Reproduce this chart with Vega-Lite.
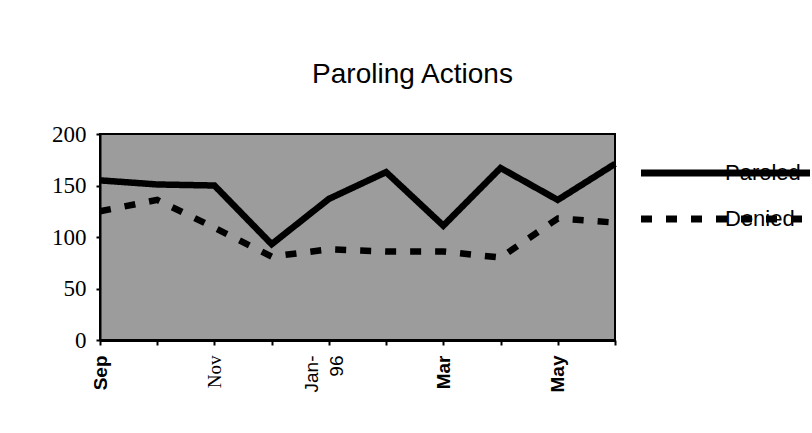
{
  "$schema": "https://vega.github.io/schema/vega-lite/v6.json",
  "width": 515,
  "height": 206,
  "autosize": {"type": "none"},
  "padding": {"left": 100, "top": 134, "right": 197, "bottom": 93},
  "background": "white",
  "title": {
    "text": "Paroling Actions",
    "font": "Liberation Sans",
    "fontSize": 28,
    "fontWeight": "normal",
    "color": "black",
    "anchor": "middle",
    "dx": 55,
    "offset": 34
  },
  "data": {
    "values": [
      {"month": "Sep", "series": "Paroled", "value": 155},
      {"month": "Oct", "series": "Paroled", "value": 151},
      {"month": "Nov", "series": "Paroled", "value": 150},
      {"month": "Dec", "series": "Paroled", "value": 93},
      {"month": "Jan-96", "series": "Paroled", "value": 137},
      {"month": "Feb", "series": "Paroled", "value": 163},
      {"month": "Mar", "series": "Paroled", "value": 111},
      {"month": "Apr", "series": "Paroled", "value": 167},
      {"month": "May", "series": "Paroled", "value": 136},
      {"month": "Jun", "series": "Paroled", "value": 171},
      {"month": "Sep", "series": "Denied", "value": 125},
      {"month": "Oct", "series": "Denied", "value": 136},
      {"month": "Nov", "series": "Denied", "value": 109},
      {"month": "Dec", "series": "Denied", "value": 81},
      {"month": "Jan-96", "series": "Denied", "value": 88},
      {"month": "Feb", "series": "Denied", "value": 86},
      {"month": "Mar", "series": "Denied", "value": 86},
      {"month": "Apr", "series": "Denied", "value": 80},
      {"month": "May", "series": "Denied", "value": 118},
      {"month": "Jun", "series": "Denied", "value": 114}
    ]
  },
  "mark": {"type": "line", "strokeWidth": 6.5, "color": "black", "strokeCap": "butt"},
  "encoding": {
    "x": {
      "field": "month",
      "type": "ordinal",
      "sort": null,
      "scale": {"type": "point", "padding": 0},
      "axis": {
        "title": null,
        "labelAngle": 270,
        "labelAlign": "right",
        "labelBaseline": "middle",
        "labelPadding": 10,
        "labelOverlap": false,
        "tickSize": 5,
        "tickColor": "black",
        "tickWidth": 2,
        "domainColor": "black",
        "domainWidth": 3,
        "labelColor": "black",
        "labelFontSize": 19,
        "labelLineHeight": 25,
        "labelOffset": {"condition": {"test": "datum.value == 'Jan-96'", "value": -17}, "value": 0},
        "labelFont": {"condition": {"test": "datum.value == 'Nov'", "value": "Liberation Serif"}, "value": "Liberation Sans"},
        "labelFontWeight": {"condition": {"test": "datum.value == 'Nov' || datum.value == 'Jan-96'", "value": "normal"}, "value": "bold"},
        "labelExpr": "indexof(['Sep','Nov','Jan-96','Mar','May'], datum.value) >= 0 ? (datum.value == 'Jan-96' ? ['Jan-','96'] : datum.value) : ''"
      }
    },
    "y": {
      "field": "value",
      "type": "quantitative",
      "scale": {"domain": [0, 200]},
      "axis": {
        "title": null,
        "values": [0, 50, 100, 150, 200],
        "grid": false,
        "labelFont": "Liberation Serif",
        "labelFontSize": 23,
        "labelColor": "black",
        "labelPadding": 10,
        "tickSize": 4,
        "tickColor": "black",
        "tickWidth": 2,
        "domainColor": "black",
        "domainWidth": 2
      }
    },
    "strokeDash": {
      "field": "series",
      "type": "nominal",
      "scale": {"domain": ["Paroled", "Denied"], "range": [[1, 0], [11, 14]]},
      "legend": {
        "orient": "none",
        "legendX": 530,
        "legendY": 23,
        "title": null,
        "padding": 5,
        "symbolType": "M-1,0H32.8",
        "symbolSize": 100,
        "symbolStrokeWidth": 7,
        "symbolStrokeColor": "black",
        "symbolFillColor": "transparent",
        "labelFont": "Liberation Sans",
        "labelFontSize": 22,
        "labelColor": "black",
        "labelOffset": 68,
        "rowPadding": 18
      }
    }
  },
  "config": {"view": {"fill": "#9c9c9c", "stroke": "black", "strokeWidth": 2}}
}
